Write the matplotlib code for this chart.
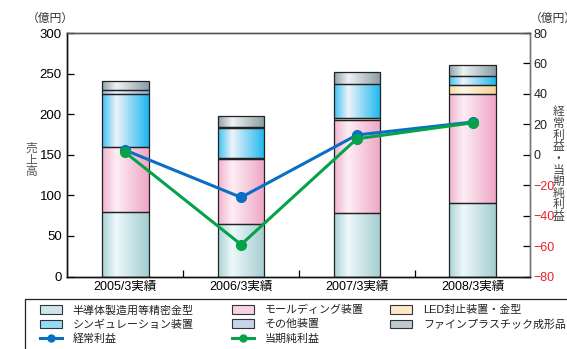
import numpy as np
import matplotlib
matplotlib.use('Agg')
import matplotlib.pyplot as plt
from matplotlib.patches import Rectangle, Patch
from matplotlib.lines import Line2D

plt.rcParams['font.family'] = ['Liberation Sans', 'Noto Sans CJK JP']

# data (億円)
categories = ['2005/3実績', '2006/3実績', '2007/3実績', '2008/3実績']
semicon = [79, 65, 78, 90]        # 半導体製造用等精密金型
molding = [81, 80, 115, 135]      # モールディング装置
led = [0, 1.5, 2, 11]             # LED封止装置・金型
singulation = [65, 36, 42, 11]    # シンギュレーション装置
other = [5, 2, 0, 0]              # その他装置
fine = [11, 13, 14.5, 13.5]       # ファインプラスチック成形品
keijo = [3, -28, 13, 21.5]        # 経常利益
net = [1.5, -59, 10.5, 21]        # 当期純利益

series = [
    ('半導体製造用等精密金型', semicon, ('#a9d4d6', '#eef8fb', '#a3cdd1')),
    ('モールディング装置', molding, ('#f2b3cf', '#fdeef4', '#efa5c5')),
    ('LED封止装置・金型', led, ('#fbd9a8', '#fff6e6', '#f8d096')),
    ('シンギュレーション装置', singulation, ('#3ec3f2', '#eef3fb', '#1db7ee')),
    ('その他装置', other, ('#9fb6de', '#eef2fa', '#91aad7')),
    ('ファインプラスチック成形品', fine, ('#8fa3aa', '#eef2f3', '#8a9ea5')),
]


def gradient(cols, n=80):
    stops = [0.0, 0.3, 1.0]
    rgb = np.array([matplotlib.colors.to_rgb(c) for c in cols])
    t = np.linspace(0, 1, n)
    img = np.stack([np.interp(t, stops, rgb[:, k]) for k in range(3)], axis=-1)
    return img[np.newaxis, :, :]


fig = plt.figure(figsize=(5.67, 3.49), dpi=100)
ax = fig.add_axes([0.119, 0.2077, 0.8166, 0.6977])
ax2 = ax.twinx()

x = np.arange(len(categories))
width = 0.40
bottom = np.zeros(len(categories))
for name, vals, cols in series:
    img = gradient(cols)
    for i, v in enumerate(vals):
        if v <= 0:
            continue
        ax.imshow(img, extent=(x[i] - width / 2, x[i] + width / 2, bottom[i], bottom[i] + v),
                  aspect='auto', interpolation='bilinear', zorder=2)
        ax.add_patch(Rectangle((x[i] - width / 2, bottom[i]), width, v, fill=False,
                               ec='#222222', lw=0.9, zorder=3))
    bottom += np.array(vals)

ax.set_xlim(-0.5, 3.5)
ax.set_ylim(0, 300)
ax.set_yticks(range(0, 301, 50))
ax.set_xticks(x)
ax.set_xticklabels(categories, fontsize=9)
ax.set_xticks([0.5, 1.5, 2.5], minor=True)
ax.tick_params(axis='x', which='major', length=0, pad=3)
ax.tick_params(axis='x', which='minor', direction='in', length=5, width=0.9)
ax.tick_params(axis='y', direction='in', length=5, width=0.9, labelsize=9.5, pad=4)

ax2.plot(x, keijo, color='#0a6fc2', lw=2.2, marker='o', ms=7, zorder=4)
ax2.plot(x, net, color='#06a24a', lw=2.2, marker='o', ms=7, zorder=5)
ax2.set_ylim(-80, 80)
ax2.set_yticks(range(-80, 81, 20))
ax2.tick_params(axis='y', direction='in', length=5, width=0.9, labelsize=9, pad=2)
for lab, v in zip(ax2.get_yticklabels(), range(-80, 81, 20)):
    lab.set_color('#e8202a' if v < 0 else '#222222')

for a in (ax, ax2):
    a.spines['left'].set_color('#111111')
    a.spines['bottom'].set_color('#111111')
    a.spines['top'].set_color('#555555')
    a.spines['right'].set_color('#777777')
    for s in a.spines.values():
        s.set_linewidth(1.0)

fig.text(0.048, 0.945, '（億円）', fontsize=8.5, color='#333333', ha='left', va='center')
fig.text(0.934, 0.945, '（億円）', fontsize=8.5, color='#333333', ha='left', va='center')
fig.text(0.055, 0.54, '売\n上\n高', fontsize=8.5, color='#555555', ha='center', va='center',
         linespacing=0.95)
fig.text(0.985, 0.528, '経\n常\n利\n益\n・\n当\n期\n純\n利\n益', fontsize=8.5, color='#444444',
         ha='center', va='center', linespacing=0.96)

# legend box and three legend columns
fig.patches.append(Rectangle((25 / 567, -0.05), 1.0, (349 - 299) / 349 + 0.05,
                             transform=fig.transFigure, fill=False, ec='#222222', lw=0.9))

def patch(cols):
    a = np.array(matplotlib.colors.to_rgb(cols[0]))
    b = np.array(matplotlib.colors.to_rgb(cols[1]))
    return Patch(facecolor=0.5 * a + 0.5 * b, edgecolor='#333333', lw=0.8)

h = {name: patch(cols) for name, vals, cols in series}
h['経常利益'] = Line2D([], [], color='#0a6fc2', lw=2.2, marker='o', ms=5)
h['当期純利益'] = Line2D([], [], color='#06a24a', lw=2.2, marker='o', ms=5)
columns = [
    (40, ['半導体製造用等精密金型', 'シンギュレーション装置', '経常利益']),
    (232, ['モールディング装置', 'その他装置', '当期純利益']),
    (390, ['LED封止装置・金型', 'ファインプラスチック成形品']),
]
for xpx, names in columns:
    leg = fig.legend([h[n] for n in names], names, loc='upper left',
                     bbox_to_anchor=(xpx / 567, (349 - 305) / 349), frameon=False,
                     fontsize=7.9, handlelength=2.0, handleheight=0.8, handletextpad=1.0,
                     labelspacing=0.35, borderpad=0, borderaxespad=0)
    for t in leg.get_texts():
        t.set_color('#222222')

fig.savefig('out.png', dpi=100)
